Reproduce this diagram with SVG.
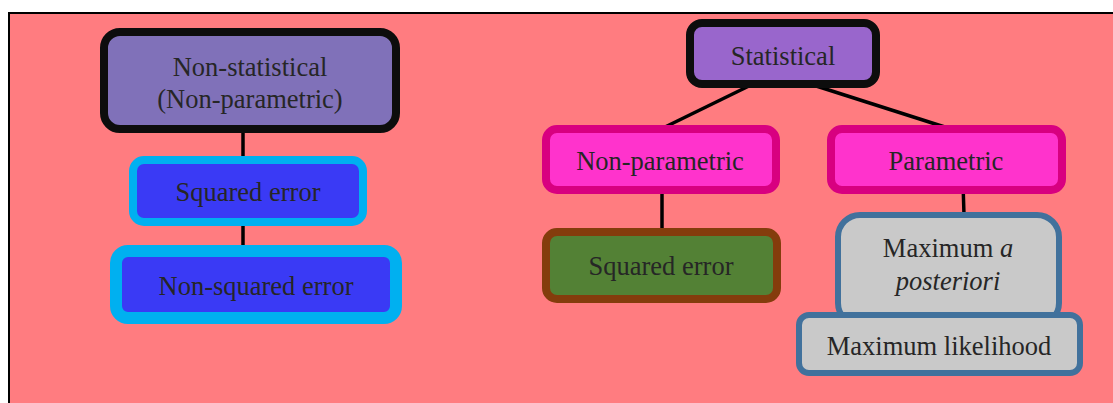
<svg xmlns="http://www.w3.org/2000/svg" width="1113" height="403" viewBox="0 0 1113 403">
<style>
  text { font-family: "Liberation Serif", "Times New Roman", serif; font-size: 26.5px; fill: #262626; text-anchor: middle; }
  .conn { stroke: #000; stroke-width: 3.5; fill: none; }
  .black { fill: #8071B9; stroke: #0D0D0D; stroke-width: 8; }
  .stat { fill: #9966CC; stroke: #0D0D0D; stroke-width: 8; }
  .blue { fill: #3A3AF5; stroke: #00B0F0; }
  .pink { fill: #FF33CC; stroke: #D80080; stroke-width: 8; }
  .green { fill: #538135; stroke: #843C0C; stroke-width: 8; }
  .grey { fill: #C9C9C9; stroke: #41719C; stroke-width: 6; }
</style>
<rect x="0" y="0" width="1113" height="403" fill="#ffffff"/>
<rect id="frame" x="9" y="13" width="1120" height="410" fill="#FF7C80" stroke="#000" stroke-width="2"/>
<g id="connectors">
  <line class="conn" x1="243" y1="129" x2="243" y2="159"/>
  <line class="conn" x1="243" y1="222" x2="243" y2="251"/>
  <line class="conn" x1="751" y1="85" x2="663" y2="128"/>
  <line class="conn" x1="810" y1="84" x2="951" y2="129"/>
  <line class="conn" x1="662" y1="190" x2="662" y2="232"/>
  <line class="conn" x1="963" y1="183" x2="964" y2="215"/>
</g>
<g id="non-statistical">
  <rect class="black" x="104" y="32" width="292" height="97" rx="16"/>
  <text x="250" y="76">Non-statistical</text>
  <text x="250" y="108">(Non-parametric)</text>
</g>
<g id="squared-error-left">
  <rect class="blue" stroke-width="8" x="133" y="160" width="230" height="62" rx="11"/>
  <text x="248" y="201">Squared error</text>
</g>
<g id="non-squared-error">
  <rect class="blue" stroke-width="12" x="116" y="251" width="280" height="67" rx="12"/>
  <text x="256" y="295">Non-squared error</text>
</g>
<g id="statistical">
  <rect class="stat" x="690" y="23" width="186" height="61" rx="12"/>
  <text x="783" y="65">Statistical</text>
</g>
<g id="non-parametric">
  <rect class="pink" x="546" y="129" width="230" height="61" rx="11"/>
  <text x="660" y="170">Non-parametric</text>
</g>
<g id="parametric">
  <rect class="pink" x="831" y="129" width="231" height="61" rx="11"/>
  <text x="946" y="170">Parametric</text>
</g>
<g id="squared-error-right">
  <rect class="green" x="546" y="232" width="231" height="67" rx="11"/>
  <text x="661" y="275">Squared error</text>
</g>
<g id="maximum-a-posteriori">
  <rect class="grey" x="838" y="215" width="221" height="110" rx="22"/>
  <text x="948" y="257">Maximum <tspan font-style="italic">a</tspan></text>
  <text x="948" y="290" font-style="italic">posteriori</text>
</g>
<g id="maximum-likelihood">
  <rect class="grey" x="799" y="315" width="281" height="58" rx="10"/>
  <text x="939" y="355">Maximum likelihood</text>
</g>
</svg>
